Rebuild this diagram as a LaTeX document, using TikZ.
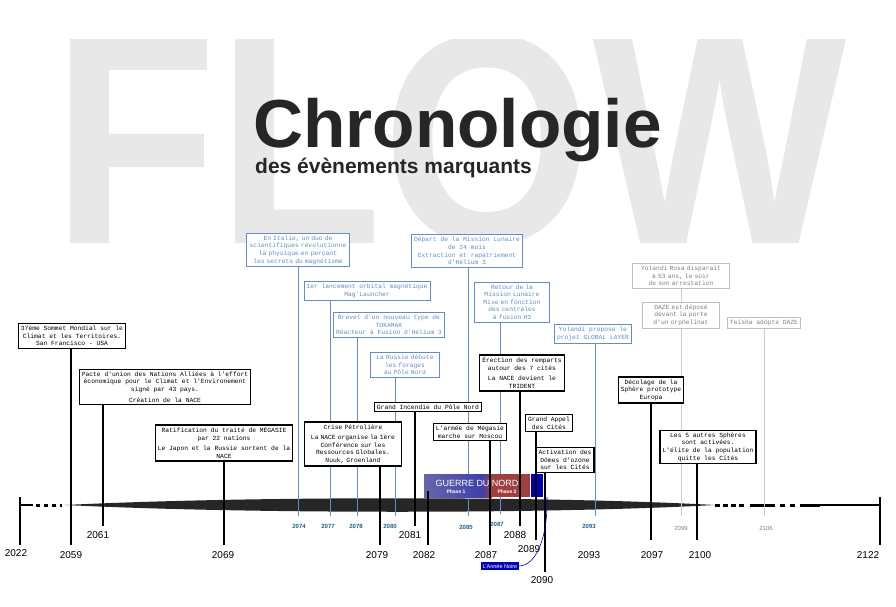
\documentclass[tikz,border=0pt]{standalone}
\usepackage{fontspec}
\setmainfont{Liberation Sans}
\newfontfamily\mono{Liberation Mono}
\usetikzlibrary{shadings}
\definecolor{lb}{RGB}{100,140,200}
\definecolor{yb}{RGB}{20,100,140}
\newcommand\nohyph{\hyphenpenalty=10000\relax\exhyphenpenalty=10000\relax}
\begin{document}
\begin{tikzpicture}[x=1pt,y=-1pt,
 bf/.style={font=\mono\fontsize{6.3}{7.6}\selectfont\nohyph},
 bbox/.style={bf,draw=black,line width=1.3pt,fill=white,align=center,inner sep=2.5pt},
 ubox/.style={bf,draw=lb,line width=0.8pt,fill=white,text=lb,align=center,inner sep=2.5pt},
 gbox/.style={bf,draw=gray!50,line width=0.8pt,fill=white,text=gray,align=center,inner sep=2.5pt},
 bl/.style={line width=1.3pt},
 ul/.style={draw=lb,line width=0.8pt},
 gl/.style={draw=gray!40,line width=0.8pt},
 yr/.style={font=\fontsize{10}{10}\selectfont,inner sep=0pt},
 uyr/.style={font=\bfseries\fontsize{6}{6}\selectfont,text=yb,inner sep=0pt},
 gyr/.style={font=\fontsize{6}{6}\selectfont,text=gray,inner sep=0pt}]
\useasboundingbox (0,0) rectangle (896,607);
\begin{scope}
\clip (0,40) rectangle (896,607);
\node[text=gray!18,font=\bfseries\fontsize{300}{300}\selectfont,xscale=0.9,inner sep=0] (flow) at (450,140) {FLOW};
\end{scope}
\node[font=\bfseries\fontsize{68}{68}\selectfont,inner sep=0,anchor=west,text=black!85,xscale=1.02] (t1) at (253,130) {Chronologie};
\node[font=\bfseries\fontsize{21}{21}\selectfont,inner sep=0,anchor=west,text=black!85] (t2) at (255,168) {des évènements marquants};
% timeline
\fill[black!85] (65,505) .. controls (250,496) and (550,496) .. (715,505) .. controls (550,514) and (250,514) .. (65,505);
\draw[line width=2pt] (20,505) -- (33,505);
\draw[line width=3pt,dash pattern=on 4pt off 4pt] (36,505) -- (62,505);
\draw[line width=3pt,dash pattern=on 5pt off 3pt] (715,505) -- (745,505);
\draw[line width=3pt,dash pattern=on 25pt off 5pt on 5pt off 5pt on 5pt off 5pt] (750,505) -- (820,505);
\draw[line width=1.5pt] (820,505) -- (880,505);
% gray
\node[gbox,text width=92pt] (yr1) at (681,276) {Yolandi Rosa disparait à 53 ans, le soir de son arrestation};
\node[gbox,text width=72pt] (daze) at (681,315) {DAZE est déposé devant la porte d'un orphelinat};
\node[gbox] (tei) at (764,323) {Teisha adopte DAZE};
\coordinate (g99) at (681,516); \coordinate (g06) at (764,516);
\draw[gl] (yr1) -- (daze); \draw[gl] (daze) -- (g99); \draw[gl] (tei) -- (g06);
\node[gyr] at (681,528) {2099}; \node[gyr] at (766,528) {2106};
% blue
\node[ubox,text width=98pt] (ita) at (298,250) {En Italie, un duo de scientifiques révolutionne la physique en perçant les secrets du magnétisme};
\node[ubox] (mag) at (367,291) {1er lancement orbital magnétique\\Mag'Launcher};
\node[ubox] (tok) at (389,325) {Brevet d'un nouveau type de\\TOKAMAK\\Réacteur à Fusion d'Hélium 3};
\node[ubox,text width=64pt] (rus) at (405,365) {La Russie débute les forages au Pôle Nord};
\node[ubox] (dep) at (467,251) {Départ de la Mission Lunaire\\de 24 mois\\Extraction et rapatriement\\d'Hélium 3};
\node[ubox,text width=70pt] (ret) at (512,302) {Retour de la Mission Lunaire Mise en fonction des centrales à fusion H3};
\node[ubox] (yol) at (593,334) {Yolandi propose le\\projet GLOBAL LAYER};
\coordinate (u74) at (299,516); \coordinate (u77) at (330,516); \coordinate (u78) at (357,516);
\coordinate (u80) at (395,516); \coordinate (u85) at (468,516); \coordinate (u87) at (500,514); \coordinate (u93) at (595,516);
\draw[ul] (ita) -- (ita|-u74); \draw[ul] (mag.south-|u77) -- (u77); \draw[ul] (tok.south-|u78) -- (u78);
\draw[ul] (rus.south-|u80) -- (u80); \draw[ul] (dep.south-|u85) -- (u85); \draw[ul] (ret.south-|u87) -- (u87);
\draw[ul] (yol.south-|u93) -- (u93);
\node[uyr] at (299,526) {2074}; \node[uyr] at (328,526) {2077}; \node[uyr] at (356,526) {2078};
\node[uyr] at (390,526) {2080}; \node[uyr] at (466,527) {2085}; \node[uyr] at (497,524) {2087}; \node[uyr] at (589,526) {2093};
% war band
\shade[left color=blue!45!black!60!white,right color=blue!55!black!75] (424,474) rectangle (482,497);
\shade[left color=blue!55!black!75,right color=red!50!black!75] (482,474) rectangle (492,497);
\fill[red!50!black!75] (492,474) rectangle (530,497);
\fill[blue!70!black] (531,474) rectangle (543,497);
\node[text=white,font=\fontsize{9}{9}\selectfont,inner sep=0] (gdn) at (477,483) {GUERRE DU NORD};
\node[text=white,font=\bfseries\fontsize{5}{5}\selectfont,inner sep=0] (p1) at (456,492) {Phase 1};
\node[text=white,font=\bfseries\fontsize{5}{5}\selectfont,inner sep=0] (p2) at (507,492) {Phase 2};
% black boxes
\node[bbox] (b59) at (72,336) {37ème Sommet Mondial sur le\\Climat et les Territoires.\\San Francisco - USA};
\node[bbox] (b61) at (165,387) {Pacte d'union des Nations Alliées à l'effort\\économique pour le Climat et l'Environement\\signé par 43 pays.\\[3pt]Création de la NACE};
\node[bbox] (b69) at (224,443) {Ratification du traité de MÉGASIE\\par 22 nations\\[3pt]Le Japon et la Russie sortent de la\\NACE};
\node[bbox,text width=92pt] (b79) at (353,444) {\centering Crise Pétrolière\\[3pt]La NACE organise la 1ère Conférence sur les Ressources Globales. Nuuk, Groenland};
\node[bbox] (b81) at (428,407) {Grand Incendie du Pôle Nord};
\node[bbox] (b87) at (470,432) {L'armée de Mégasie\\marche sur Moscou};
\node[bbox] (b88) at (522,373) {Érection des remparts\\autour des 7 cités\\[3pt]La NACE devient le\\TRIDENT};
\node[bbox] (b89) at (549,423) {Grand Appel\\des Cités};
\node[bbox] (b90) at (565,460) {Activation des\\Dômes d'ozone\\sur les Cités};
\node[bbox] (b97) at (651,390) {Décolage de la\\Sphère prototype\\Europa};
\node[bbox] (b00) at (708,447) {Les 5 autres Sphères\\sont activées.\\L'élite de la population\\quitte les Cités};
% ticks
\draw[line width=1.5pt] (20,497) -- (20,545);
\draw[line width=1.5pt] (880,497) -- (880,545);
\coordinate (y59) at (71,545); \coordinate (y61) at (103,526); \coordinate (y69) at (225,545);
\coordinate (y79) at (380,545); \coordinate (y81) at (415,526); \coordinate (y82) at (428,545);
\coordinate (y87) at (490,545); \coordinate (y88) at (520,526); \coordinate (y89) at (536,540);
\coordinate (y90) at (545,572); \coordinate (y97) at (651,540); \coordinate (y00) at (697,540);
\draw[bl] (b59.south-|y59) -- (y59); \draw[bl] (b61.south-|y61) -- (y61); \draw[bl] (b69) -- (b69|-y69);
\draw[bl] (b79.south-|y79) -- (y79); \draw[bl] (b81.south-|y81) -- (y81); \draw[bl] (428,491) -- (y82);
\draw[bl] (b87.south-|y87) -- (y87); \draw[bl] (b88.south-|y88) -- (y88); \draw[bl] (b89.south-|y89) -- (y89);
\draw[bl] (b90.south-|y90) -- (y90); \draw[bl] (b97) -- (b97|-y97); \draw[bl] (b00.south-|y00) -- (y00);
\node[yr] at (16,553) {2022}; \node[yr] at (71,555) {2059}; \node[yr] at (98,535) {2061};
\node[yr] at (223,555) {2069}; \node[yr] at (377,555) {2079}; \node[yr] at (410,535) {2081};
\node[yr] at (424,555) {2082}; \node[yr] at (486,555) {2087}; \node[yr] at (515,535) {2088};
\node[yr] at (529,549) {2089}; \node[yr] at (542,580) {2090}; \node[yr] at (589,555) {2093};
\node[yr] at (652,555) {2097}; \node[yr] at (700,555) {2100}; \node[yr] at (868,555) {2122};
\node[fill=blue!70!black,text=white,font=\fontsize{5.5}{5.5}\selectfont,inner sep=1.5pt] (an) at (500,566) {L'Année Noire};
\draw[blue!70!black,line width=0.6pt] (an.east) .. controls (535,566) and (548,540) .. (547,497);
\end{tikzpicture}
\end{document}
